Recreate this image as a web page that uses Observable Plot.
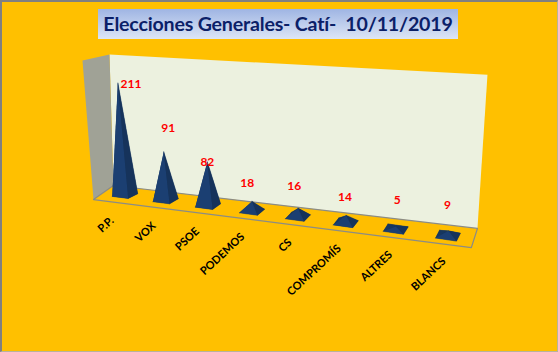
<!DOCTYPE html>
<html lang="es">
<head>
<meta charset="utf-8">
<script src="https://cdn.jsdelivr.net/npm/d3@7"></script>
<script src="https://cdn.jsdelivr.net/npm/@observablehq/plot@0.6"></script>
<style>
  html, body { margin: 0; padding: 0; background: #FFC000; }
  #chart { position: relative; width: 558px; height: 352px; overflow: hidden; }
  #chart svg { display: block; }
  #title {
    position: absolute; left: 98px; top: 9px; width: 360px; height: 30px;
    background: linear-gradient(#9FB5E3, #DDE6F6);
    color: #0B2068; font: bold 19.6px/30px Lato, sans-serif; letter-spacing: -0.19px; text-align: center;
    white-space: pre;
  }
  #frame {
    position: absolute; inset: 0; box-sizing: border-box; pointer-events: none;
    border-style: solid; border-color: #808080 #B8B49A #B8B49A #808080; border-width: 2px 1px 1px 2px;
  }
</style>
</head>
<body>
<div id="chart">
  <div id="title">Elecciones Generales- Catí-  10/11/2019</div>
  <div id="frame"></div>
</div>
<script>
// ---- chart values ----
const categories = ["P.P.", "VOX", "PSOE", "PODEMOS", "CS", "COMPROMÍS", "ALTRES", "BLANCS"];
const votes = [211, 91, 82, 18, 16, 14, 5, 9];

// ---- data-label nudges from each apex, in scale units (categories, votes) ----
const labelNudgeU = [0.33, 0.11, 0, -0.12, -0.10, -0.03, 0.03, -0.03];
const labelNudgeV = [-2, 45, 0, 34, 41, 34, 49, 49];

// ---- oblique perspective of the 3-D scene, in scale units ----
const recede = 0.01944;      // spacing grows towards the right
const floorTilt = -9.45;     // votes lost per category along the floor
const leanAround = 2.65, leanRate = 0.000318;
const position = (i) => i / (1 - recede * i);

const wallBack = [[-0.389, 265], [9.094, 227], [8.843, -63], [-0.289, 18]];
const wallSide = [[-1.066, 254], [-0.389, 265], [-0.289, 18], [-0.79, -8.5]];
const floor = [[-0.289, 18], [8.843, -63], [8.69, -99], [-0.79, -8.5]];
const floorEdges = [[[-0.289, 18], [8.843, -63]], [[8.843, -63], [8.69, -99], [-0.79, -8.5], [-0.289, 18]]];

const faceLight = "#1B3F72", faceDark = "#16335B", faceBack = "#17375E";

function pyramid(i) {
  const u = position(i), base = floorTilt * u, h = votes[i];
  const fu = 0.40 + 0.018 * i, fv = -3.8 - 0.28 * i;
  const su = 0.238 - 0.02 * i, sv = 8.9 + 0.85 * i;
  const L = [u - (fu + su) / 2, base - (fv + sv) / 2];
  const F = [L[0] + fu, L[1] + fv];
  const R = [F[0] + su, F[1] + sv];
  const B = [L[0] + su, L[1] + sv];
  const A = [u + (u - leanAround) * leanRate * h, base + h];
  return {A, faces: [
    [[L, F, R, B], faceBack],
    [[L, B, A], faceBack],
    [[B, R, A], faceBack],
    [[L, F, A], faceLight],
    [[F, R, A], faceDark]
  ]};
}

const pyramids = categories.map((_, i) => pyramid(i));
const faceRows = pyramids.flatMap((p, i) =>
  p.faces.flatMap(([pts, color], f) =>
    pts.map(([x, y]) => ({x, y, color, key: `${i}-${f}`}))));

const voteLabels = categories.map((c, i) => ({
  x: pyramids[i].A[0] + labelNudgeU[i],
  y: pyramids[i].A[1] + labelNudgeV[i],
  text: String(votes[i])
}));
const catLabels = categories.map((c, i) => ({
  x: position(i) - 0.326 + 0.0326 * i,
  y: floorTilt * position(i),
  text: c
}));

const polygon = (pts, fill) => Plot.line(pts, {x: "0", y: "1", fill, stroke: "none"});

const chart = Plot.plot({
  width: 558,
  height: 352,
  margin: 0,
  style: {background: "#FFC000"},
  x: {domain: [-3.123, 10.876], axis: null},
  y: {domain: [-297, 367], axis: null},
  marks: [
    polygon(floor, "#FFBE00"),
    polygon(wallBack, "#ECF1DF"),
    polygon(wallSide, "#A0A296"),
    ...floorEdges.map((e) => Plot.line(e, {x: "0", y: "1", stroke: "#8C8C84", strokeWidth: 1.2})),
    Plot.line(faceRows, {x: "x", y: "y", z: "key", fill: "color", stroke: "color", strokeWidth: 0.3}),
    Plot.text(catLabels, {
      x: "x", y: "y", text: "text", rotate: -43, textAnchor: "end",
      dy: 24, fill: "#000000",
      fontFamily: "Lato, sans-serif", fontWeight: "bold", fontSize: 11
    }),
    Plot.text(voteLabels, {
      x: "x", y: "y", text: "text", fill: "#FF0000",
      fontFamily: "Lato, sans-serif", fontWeight: "bold", fontSize: 12
    })
  ]
});
document.getElementById("chart").prepend(chart);
</script>
</body>
</html>
